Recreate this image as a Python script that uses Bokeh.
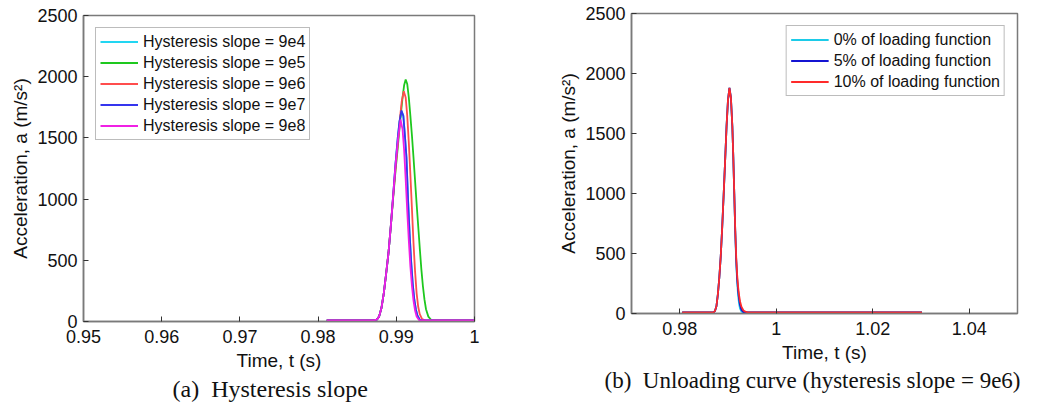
from bokeh.plotting import figure
from bokeh.layouts import row, column
from bokeh.models import Range1d, FixedTicker, Title
from bokeh.embed import file_html
from bokeh.resources import INLINE

# ---------------- Panel (a): Hysteresis slope ----------------
a_series_labels = ["Hysteresis slope = 9e4", "Hysteresis slope = 9e5", "Hysteresis slope = 9e6",
                   "Hysteresis slope = 9e7", "Hysteresis slope = 9e8"]

t_9e4 = [0.9811, 0.9870, 0.9875, 0.9878, 0.9881, 0.9884, 0.9887, 0.9890, 0.9893, 0.9896, 0.9899, 0.9902,
         0.9904, 0.99066, 0.9909, 0.9911, 0.9913, 0.9915, 0.9917, 0.9919, 0.9921, 0.9923, 0.9925, 0.9927,
         0.9930, 0.9933, 1.0]
a_9e4 = [10, 10, 15, 40, 110, 230, 390, 560, 780, 1030, 1290, 1510,
         1630, 1720, 1680, 1520, 1340, 1000, 720, 490, 310, 180, 100, 50,
         15, 10, 10]

t_9e5 = [0.9811, 0.9870, 0.9875, 0.9878, 0.9881, 0.9884, 0.9887, 0.9890, 0.9893, 0.9896, 0.9899, 0.9902,
         0.9905, 0.9908, 0.9910, 0.9912, 0.9914, 0.9916, 0.9918, 0.9920, 0.9922, 0.9924, 0.9926, 0.9928,
         0.9930, 0.9932, 0.9934, 0.9936, 0.9938, 0.9941, 0.9945, 1.0]
a_9e5 = [10, 10, 15, 40, 110, 230, 390, 560, 780, 1010, 1230, 1430,
         1640, 1830, 1930, 1977, 1940, 1830, 1680, 1520, 1340, 1150, 960, 780,
         600, 430, 290, 180, 100, 40, 10, 10]

t_9e6 = [0.9811, 0.9870, 0.9875, 0.9878, 0.9881, 0.9884, 0.9887, 0.9890, 0.9893, 0.9896, 0.9899, 0.9902,
         0.9905, 0.9907, 0.99096, 0.9912, 0.9914, 0.9916, 0.9918, 0.9920, 0.9922, 0.9924, 0.9926, 0.9928,
         0.9930, 0.9933, 0.9937, 1.0]
a_9e6 = [10, 10, 15, 40, 110, 230, 390, 560, 780, 1020, 1250, 1460,
         1680, 1800, 1881, 1830, 1680, 1460, 1200, 920, 640, 410, 230, 120,
         60, 20, 10, 10]

t_9e7 = [0.9811, 0.9870, 0.9875, 0.9878, 0.9881, 0.9884, 0.9887, 0.9890, 0.9893, 0.9896, 0.9899, 0.9902,
         0.9904, 0.99066, 0.9909, 0.9911, 0.9913, 0.9915, 0.9917, 0.9919, 0.9921, 0.9923, 0.9925, 0.9927,
         0.9930, 0.9933, 1.0]
a_9e7 = [10, 10, 15, 40, 110, 230, 390, 560, 780, 1030, 1290, 1510,
         1630, 1724, 1680, 1520, 1340, 1000, 720, 490, 310, 180, 100, 50,
         15, 10, 10]

t_9e8 = [0.9811, 0.9870, 0.9875, 0.9878, 0.9881, 0.9884, 0.9887, 0.9890, 0.9893, 0.9896, 0.9899, 0.9902,
         0.99054, 0.9908, 0.9910, 0.9912, 0.9914, 0.9916, 0.9918, 0.9920, 0.9922, 0.9924, 0.9926, 0.9929,
         0.9932, 1.0]
a_9e8 = [10, 10, 15, 40, 110, 230, 390, 560, 780, 1030, 1280, 1480,
         1650, 1570, 1400, 1160, 900, 660, 450, 290, 170, 90, 40, 12,
         10, 10]

a_xticks = [0.95, 0.96, 0.97, 0.98, 0.99, 1.0]
a_xtick_labels = ["0.95", "0.96", "0.97", "0.98", "0.99", "1"]

# ---------------- Panel (b): Unloading curve ----------------
b_series_labels = ["0% of loading function", "5% of loading function", "10% of loading function"]

t_0 = [0.9805, 0.9870, 0.9873, 0.9876, 0.9879, 0.9882, 0.9885, 0.9888, 0.9891, 0.9894, 0.9897, 0.9900,
       0.9903, 0.9906, 0.9909, 0.9911, 0.9913, 0.9915, 0.9917, 0.9919, 0.9921, 0.9923, 0.9925, 0.9928,
       0.9932, 1.0302]
a_0 = [10, 10, 20, 60, 160, 300, 480, 720, 990, 1270, 1560, 1780,
       1881, 1800, 1560, 1300, 1000, 680, 430, 260, 150, 80, 40, 15,
       10, 10]

t_5 = [0.9805, 0.9870, 0.9873, 0.9876, 0.9879, 0.9882, 0.9885, 0.9888, 0.9891, 0.9894, 0.9897, 0.9900,
       0.9903, 0.9906, 0.9909, 0.9911, 0.9913, 0.9915, 0.9917, 0.9919, 0.9921, 0.9923, 0.9925, 0.9928,
       0.9932, 0.9936, 1.0302]
a_5 = [10, 10, 20, 60, 160, 300, 480, 720, 990, 1270, 1560, 1780,
       1881, 1800, 1560, 1300, 1000, 690, 450, 290, 190, 120, 70, 30,
       12, 10, 10]

t_10 = [0.9805, 0.9870, 0.9873, 0.9876, 0.9879, 0.9882, 0.9885, 0.9888, 0.9891, 0.9894, 0.9897, 0.9900,
        0.9903, 0.9906, 0.9909, 0.9911, 0.9913, 0.9915, 0.9917, 0.9919, 0.9921, 0.9923, 0.9925, 0.9928,
        0.9932, 0.9936, 0.9941, 1.0302]
a_10 = [10, 10, 20, 60, 160, 300, 480, 720, 990, 1270, 1560, 1780,
        1881, 1800, 1560, 1300, 1000, 700, 470, 320, 220, 150, 100, 55,
        25, 15, 10, 10]

b_xticks = [0.98, 1.0, 1.02, 1.04]
b_xtick_labels = ["0.98", "1", "1.02", "1.04"]

yticks = [0, 500, 1000, 1500, 2000, 2500]

FONT = "Liberation Sans"
GRAY = "#7a7a7a"


def style(p, xticks, xlabels):
    p.xaxis.ticker = FixedTicker(ticks=xticks)
    p.xaxis.major_label_overrides = {t: l for t, l in zip(xticks, xlabels)}
    p.yaxis.ticker = FixedTicker(ticks=yticks)
    for ax in (p.xaxis[0], p.yaxis[0]):
        ax.axis_line_color = GRAY
        ax.axis_line_width = 1.5
        ax.major_tick_in = 5
        ax.major_tick_out = 0
        ax.major_tick_line_color = "#333333"
        ax.minor_tick_line_color = None
        ax.major_label_text_font = FONT
        ax.major_label_text_font_size = "18px"
        ax.major_label_text_color = "#111111"
        ax.axis_label_text_font = FONT
        ax.axis_label_text_font_size = "19px"
        ax.axis_label_text_font_style = "normal"
        ax.axis_label_text_color = "#111111"
    p.xaxis.major_label_standoff = 8
    p.xaxis.axis_label_standoff = 4
    p.yaxis.major_label_standoff = 6
    p.yaxis.axis_label_standoff = 3
    p.xgrid.grid_line_color = None
    p.ygrid.grid_line_color = None
    p.outline_line_color = GRAY
    p.outline_line_width = 1.5
    p.outline_line_alpha = 1.0
    lg = p.legend[0]
    lg.label_text_font = FONT
    lg.label_text_font_size = "16px"
    lg.label_text_color = "#111111"
    lg.border_line_color = GRAY
    lg.border_line_width = 1.5
    lg.padding = 4
    lg.spacing = 2
    lg.margin = 12
    lg.label_height = 19
    lg.glyph_height = 19
    lg.glyph_width = 38
    lg.label_standoff = 5
    lg.background_fill_alpha = 1.0


def caption(text, offset, size):
    return Title(text=text, align="left", offset=offset, standoff=0,
                 text_font="Liberation Serif", text_font_size=size,
                 text_font_style="normal", text_color="#111111")


# ---- figure (a)
p1 = figure(width=520, height=408, output_backend="svg", toolbar_location=None,
            x_range=Range1d(0.95, 1.0), y_range=Range1d(0, 2500),
            min_border_left=83, min_border_right=46, min_border_top=15, min_border_bottom=87,
            x_axis_label="Time, t (s)", y_axis_label="Acceleration, a (m/s²)")
a_data = [(t_9e4, a_9e4, "#22d6f2"), (t_9e5, a_9e5, "#1ec81e"), (t_9e6, a_9e6, "#ff4d4d"),
          (t_9e7, a_9e7, "#3535ee"), (t_9e8, a_9e8, "#f020e4")]
for (tt, aa, c), lab in zip(a_data, a_series_labels):
    p1.line(tt, aa, line_color=c, line_width=1.8, legend_label=lab)
style(p1, a_xticks, a_xtick_labels)
p1.legend[0].location = "top_left"
p1.add_layout(caption("(a)\u00a0\u00a0Hysteresis slope", 89, "24px"), "below")

# ---- figure (b)
p2 = figure(width=517, height=408, output_backend="svg", toolbar_location=None,
            x_range=Range1d(0.97, 1.05), y_range=Range1d(0, 2500),
            min_border_left=111, min_border_right=20, min_border_top=13, min_border_bottom=95,
            x_axis_label="Time, t (s)", y_axis_label="Acceleration, a (m/s²)")
b_data = [(t_0, a_0, "#1ccbe8"), (t_5, a_5, "#1414d2"), (t_10, a_10, "#ff2a2a")]
for (tt, aa, c), lab in zip(b_data, b_series_labels):
    p2.line(tt, aa, line_color=c, line_width=1.8, legend_label=lab)
style(p2, b_xticks, b_xtick_labels)
p2.legend[0].location = "top_right"
p2.add_layout(caption("(b)\u00a0\u00a0Unloading curve (hysteresis slope = 9e6)", -27, "23px"), "below")

layout = row(column(p1), column(p2))
open("out.html", "w").write(file_html(layout, INLINE))
